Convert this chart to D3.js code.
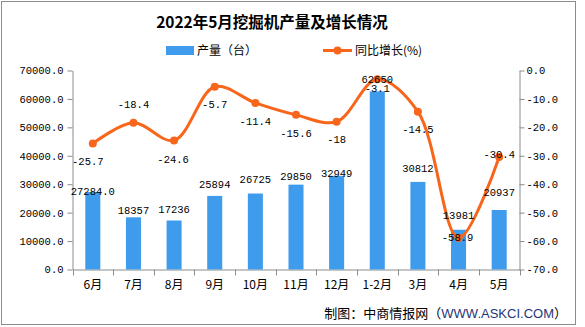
<!DOCTYPE html>
<html><head><meta charset="utf-8">
<script src="https://cdn.jsdelivr.net/npm/d3@7/dist/d3.min.js"></script>
<style>
html,body{margin:0;padding:0;background:#fff;}
svg{display:block;}
</style>
</head><body>
<svg id="chart" width="585" height="327"></svg>
<script>
const title = "2022年5月挖掘机产量及增长情况";
const categories = ["6月","7月","8月","9月","10月","11月","12月","1-2月","3月","4月","5月"];
const output = [27284,18357,17236,25894,26725,29850,32949,62650,30812,13981,20937];
const outputLabels = ["27284.0","18357","17236","25894","26725","29850","32949","62650","30812","13981","20937"];
const growth = [-25.7,-18.4,-24.6,-5.7,-11.4,-15.6,-18,-3.1,-14.5,-58.9,-30.4];
const growthLabels = ["-25.7","-18.4","-24.6","-5.7","-11.4","-15.6","-18","-3.1","-14.5","-58.9","-30.4"];
const leftTicks = [0,10000,20000,30000,40000,50000,60000,70000];
const rightTicks = [0,-10,-20,-30,-40,-50,-60,-70];
const legendLabels = ["产量（台）","同比增长(%)"];
const footer = "制图：中商情报网（";
const footerUrl = "WWW.ASKCI.COM";
const footerEnd = "）";

// label placement (offsets from the mark, px)
const barLabelDy = [-1,-7,-11,-12,-14,-8,-3,-12,-14,-14,-18];
const lineLabelDx = [-5,0,-1,0,0,0,0,0,0,-1,0];
const lineLabelDy = [18,-18,18.5,18,18,18,18,9,18,-1,-3];

const BLUE = "#3f9ced", ORANGE = "#f8661b", AXIS = "#8c8c8c";
const monoFont = "'Liberation Mono', monospace";
const cjkFont = "'Noto Sans CJK SC', sans-serif";

const svg = d3.select("#chart");
svg.append("rect").attr("x",1.5).attr("y",1.5).attr("width",574).attr("height",323)
  .attr("fill","#fff").attr("stroke",AXIS).attr("stroke-width",1);

const pLeft = 72.5, pRight = 519.5, pTop = 70.5, pBottom = 269.5;
const x = d3.scaleBand().domain(categories).range([pLeft,pRight]).padding(0);
const yL = d3.scaleLinear().domain([0,70000]).range([pBottom,pTop]);
const yR = d3.scaleLinear().domain([-70,0]).range([pBottom,pTop]);

// title
svg.append("text").attr("x",272).attr("y",28).attr("text-anchor","middle")
  .attr("font-family",cjkFont).attr("font-weight","bold").attr("font-size",15.5)
  .attr("fill","#000").text(title);

// legend
svg.append("rect").attr("x",166).attr("y",46).attr("width",28).attr("height",9).attr("fill",BLUE);
svg.append("text").attr("x",197).attr("y",55).attr("font-family",cjkFont).attr("font-size",12).text(legendLabels[0]);
svg.append("line").attr("x1",323).attr("x2",352).attr("y1",50.5).attr("y2",50.5).attr("stroke",ORANGE).attr("stroke-width",3);
svg.append("circle").attr("cx",337.5).attr("cy",50.5).attr("r",4).attr("fill",ORANGE);
svg.append("text").attr("x",355).attr("y",55).attr("font-family",cjkFont).attr("font-size",12).text(legendLabels[1]);

// left axis
const gL = svg.append("g").attr("transform",`translate(${pLeft},0)`)
  .call(d3.axisLeft(yL).tickValues(leftTicks).tickFormat(d=>d.toFixed(1)).tickSize(5).tickSizeOuter(0).tickPadding(4));
// right axis
const gR = svg.append("g").attr("transform",`translate(${pRight},0)`)
  .call(d3.axisRight(yR).tickValues(rightTicks).tickFormat(d=>d.toFixed(1)).tickSize(5).tickSizeOuter(0).tickPadding(2));
[gL,gR].forEach(g=>{
  g.select(".domain").attr("stroke",AXIS);
  g.selectAll(".tick line").attr("stroke",AXIS);
  g.selectAll(".tick text").attr("font-family",monoFont).attr("font-size",10.5).attr("fill","#000");
});

// x axis
const gX = svg.append("g").attr("transform",`translate(0,${pBottom})`)
  .call(d3.axisBottom(x).tickSize(0).tickPadding(11));
gX.select(".domain").attr("stroke",AXIS);
gX.selectAll(".tick text").attr("font-family",cjkFont).attr("font-size",12).attr("fill","#000");
const bounds = d3.range(categories.length+1).map(i=>pLeft + i*x.step());
gX.selectAll("line.bt").data(bounds).join("line").attr("class","bt")
  .attr("x1",d=>Math.round(d)+0.5).attr("x2",d=>Math.round(d)+0.5).attr("y1",0).attr("y2",6).attr("stroke",AXIS);

// bars
const bw = x.bandwidth()*0.37;
svg.append("g").selectAll("rect").data(output).join("rect")
  .attr("x",(d,i)=>x(categories[i]) + x.bandwidth()/2 - bw/2)
  .attr("y",d=>yL(d)).attr("width",bw).attr("height",d=>pBottom - yL(d))
  .attr("fill",BLUE);

// line
const line = d3.line().x((d,i)=>x(categories[i]) + x.bandwidth()/2).y(d=>yR(d))
  .curve(d3.curveCatmullRom.alpha(0.5));
svg.append("path").datum(growth).attr("d",line).attr("fill","none")
  .attr("stroke",ORANGE).attr("stroke-width",3);
svg.append("g").selectAll("circle").data(growth).join("circle")
  .attr("cx",(d,i)=>x(categories[i]) + x.bandwidth()/2).attr("cy",d=>yR(d)).attr("r",4).attr("fill",ORANGE);

// bar labels
svg.append("g").selectAll("text").data(output).join("text")
  .attr("x",(d,i)=>x(categories[i]) + x.bandwidth()/2)
  .attr("y",(d,i)=>yL(d) + barLabelDy[i]).attr("dy","0.35em")
  .attr("text-anchor","middle").attr("font-family",monoFont).attr("font-size",10.5)
  .text((d,i)=>outputLabels[i]);

// line labels
svg.append("g").selectAll("text").data(growth).join("text")
  .attr("x",(d,i)=>x(categories[i]) + x.bandwidth()/2 + lineLabelDx[i])
  .attr("y",(d,i)=>yR(d) + lineLabelDy[i]).attr("dy","0.35em")
  .attr("text-anchor","middle").attr("font-family",monoFont).attr("font-size",10.5)
  .text((d,i)=>growthLabels[i]);

// footer
const ft = svg.append("text").attr("x",567).attr("y",318).attr("text-anchor","end")
  .attr("font-family",cjkFont).attr("font-size",13).attr("fill","#000");
ft.append("tspan").text(footer);
ft.append("tspan").attr("fill","#1f3579").attr("font-family","'Liberation Sans', Arial, sans-serif").text(footerUrl);
ft.append("tspan").text(footerEnd);
</script>
</body></html>
